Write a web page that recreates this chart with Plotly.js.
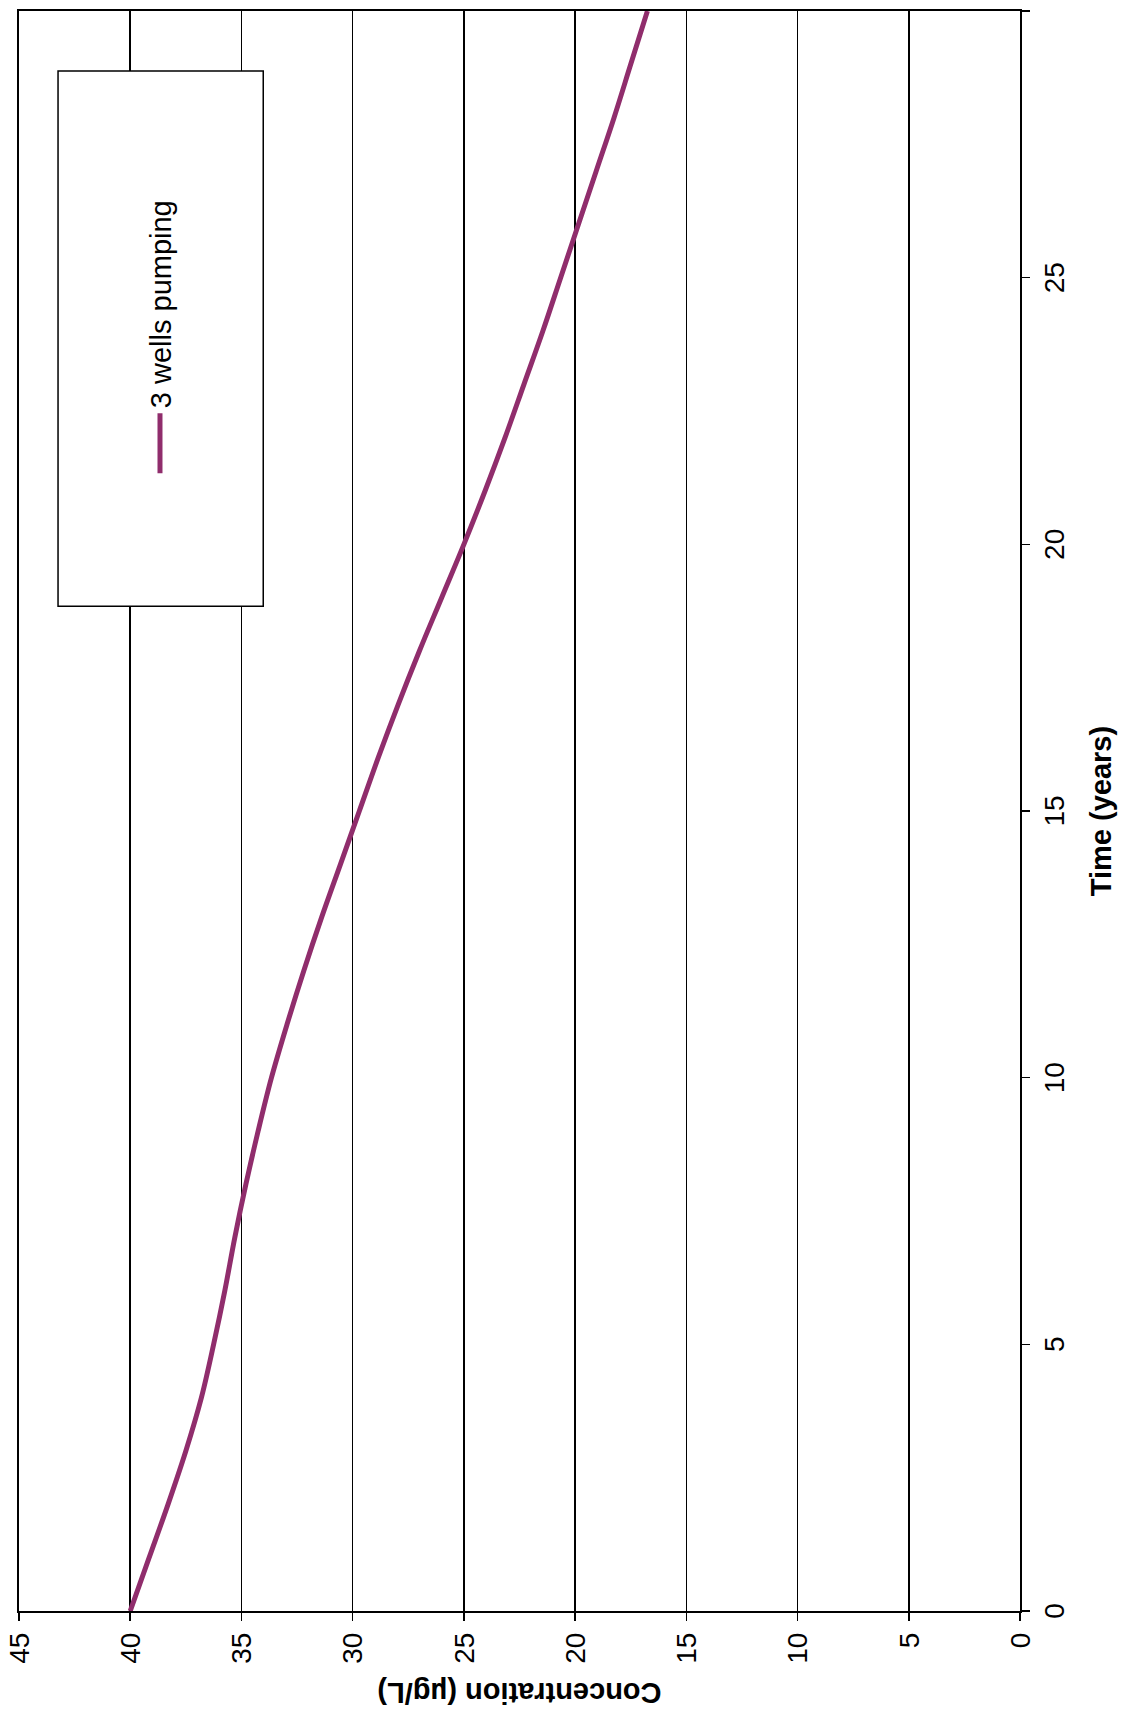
<!DOCTYPE html>
<html>
<head>
<meta charset="utf-8">
<script src="https://cdn.plot.ly/plotly-3.0.1.min.js"></script>
<style>
  html, body { margin: 0; padding: 0; width: 1130px; height: 1722px; overflow: hidden; background: #fff; }
  #chart { position: absolute; left: 0; top: 0; width: 1722px; height: 1130px;
           transform-origin: 0 0; transform: translateY(1722px) rotate(-90deg); }
</style>
</head>
<body>
<div id="chart"></div>
<script>
// Time (years)
const timeYears = [0, 1, 2, 3, 4, 5, 6, 7, 8, 9, 10, 11, 12, 13, 14, 15,
                   16, 17, 18, 19, 20, 21, 22, 23, 24, 25, 26, 27, 28, 29, 30];
// Concentration (µg/L), 3 wells pumping
const conc3Wells = [40.0, 39.15, 38.3, 37.5, 36.8, 36.25, 35.75, 35.3, 34.8, 34.25, 33.65,
                    32.95, 32.2, 31.4, 30.55, 29.7, 28.85, 27.95, 27.0, 26.0, 25.0,
                    24.05, 23.15, 22.3, 21.45, 20.65, 19.85, 19.05, 18.25, 17.5, 16.75];
const seriesName = "3 wells pumping";
const xTitle = "Time (years)";
const yTitle = "Concentration (µg/L)";

const FONT = "Liberation Sans, Arial, sans-serif";

const trace = {
  x: timeYears, y: conc3Wells, type: "scatter", mode: "lines",
  name: seriesName, line: { color: "#902D6C", width: 5, shape: "spline", smoothing: 1 },
  showlegend: true
};

const layout = {
  width: 1722, height: 1130,
  margin: { l: 111, r: 11, t: 19, b: 110 },
  paper_bgcolor: "#fff", plot_bgcolor: "#fff",
  font: { family: FONT, size: 28, color: "#000" },
  showlegend: true,
  xaxis: {
    range: [0, 30], dtick: 5, tick0: 0,
    ticks: "outside", ticklen: 8, tickwidth: 1.5, tickcolor: "#000",
    showline: true, linecolor: "#000", linewidth: 2, mirror: true,
    showgrid: false, zeroline: false,
    tickfont: { family: FONT, size: 28, color: "#000" },
    title: { text: "<b>" + xTitle + "</b>", font: { family: FONT, size: 29, color: "#000" }, standoff: 22 },
    automargin: false
  },
  yaxis: {
    range: [0, 45], dtick: 5, tick0: 0,
    ticks: "outside", ticklen: 8, tickwidth: 1.5, tickcolor: "#000",
    showline: true, linecolor: "#000", linewidth: 2, mirror: true,
    showgrid: true, gridcolor: "#000", gridwidth: 1.5, zeroline: false,
    tickfont: { family: FONT, size: 28, color: "#000" },
    ticklabelstandoff: 6,
    title: { text: "<b>" + yTitle + "</b>", font: { family: FONT, size: 29, color: "#000" }, standoff: 10 },
    automargin: false
  },
  legend: {
    x: 0.708, y: 0.859, xanchor: "left", yanchor: "middle",
    bgcolor: "rgba(0,0,0,0)", borderwidth: 0,
    font: { family: FONT, size: 29, color: "#000" },
    itemwidth: 60
  },
  shapes: [{
    type: "rect", xref: "paper", yref: "paper",
    x0: 0.628, x1: 0.9625, y0: 0.756, y1: 0.961,
    line: { color: "#000", width: 1.5 }, fillcolor: "#fff", layer: "above"
  }]
};

Plotly.newPlot("chart", [trace], layout, { staticPlot: true, displayModeBar: false });
</script>
</body>
</html>
